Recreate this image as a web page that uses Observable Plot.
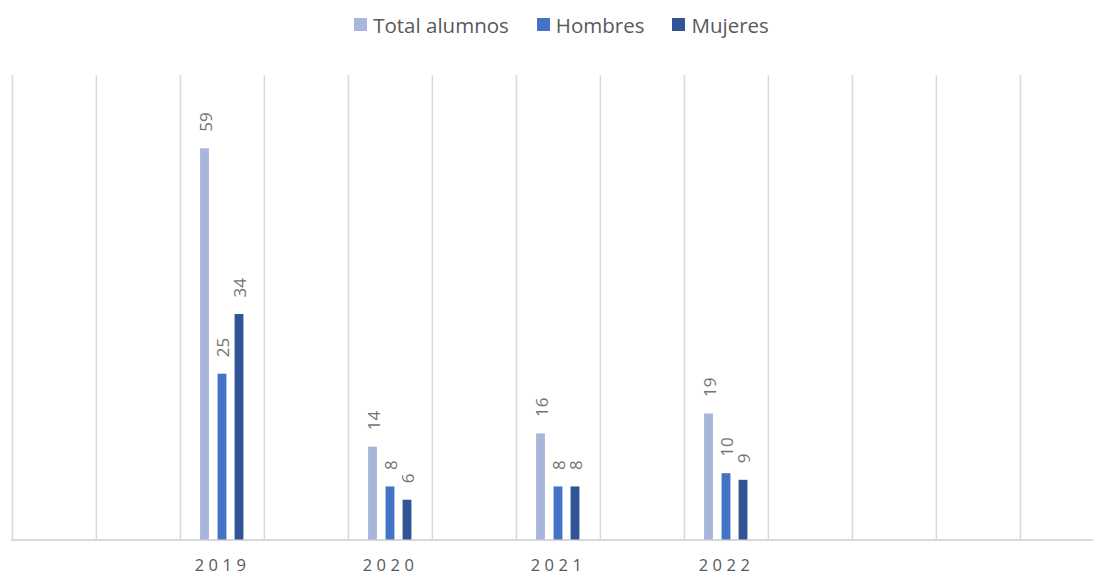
<!DOCTYPE html>
<html>
<head>
<meta charset="utf-8">
<script src="https://cdn.jsdelivr.net/npm/d3@7"></script>
<script src="https://cdn.jsdelivr.net/npm/@observablehq/plot@0.6"></script>
<style>
  body { margin: 0; background: #fff; font-family: "Open Sans", sans-serif; }
  #legend { height: 40px; display: flex; justify-content: center; align-items: center; width: 1063px; padding-left: 30px; color: #595959; font-size: 20.5px; }
  #legend .item { display: flex; align-items: center; margin: 0 14px; position: relative; top: 4.5px; }
  #legend .sw { width: 13px; height: 13px; margin-right: 6px; }
  #chart g[aria-label="x-axis tick label"] text { letter-spacing: 4.5px; }
</style>
</head>
<body>
<div id="legend"></div>
<div id="chart"></div>
<script>
const categories = ["", "", "2019", "", "2020", "", "2021", "", "2022", "", "", "", ""];
const years = ["2019", "2020", "2021", "2022"];
const total = [59, 14, 16, 19];
const hombres = [25, 8, 8, 10];
const mujeres = [34, 6, 8, 9];
const seriesNames = ["Total alumnos", "Hombres", "Mujeres"];
const seriesColors = ["#A9B6DC", "#4472C4", "#2F5597"];

const rows = years.map((y, i) => ({slot: categories.indexOf(y), total: total[i], hombres: hombres[i], mujeres: mujeres[i]}));
const slots = categories.map((c, i) => i);

// legend
const leg = document.getElementById("legend");
seriesNames.forEach((n, i) => {
  const it = document.createElement("div"); it.className = "item";
  const sw = document.createElement("div"); sw.className = "sw"; sw.style.background = seriesColors[i];
  const tx = document.createElement("span"); tx.textContent = n;
  it.appendChild(sw); it.appendChild(tx); leg.appendChild(it);
});

const W = 1093, H = 535;
const x0 = 11, x1 = 1105;
const bw = (x1 - x0) / categories.length;
const barW = 9;
const inset = (bw - barW) / 2;
const offs = [-17.5, 0, 17];
const keys = ["total", "hombres", "mujeres"];
const labelFont = {fontSize: 17, fill: "#737373", fontFamily: "Open Sans"};

const marks = [
  Plot.ruleX(slots, {x: d => d, dx: -bw / 2, stroke: "#d9d9d9", strokeWidth: 1.5}),
  Plot.ruleY([0], {stroke: "#d9d9d9", strokeWidth: 2})
];
keys.forEach((k, i) => {
  marks.push(Plot.barY(rows, {x: "slot", y: k, fill: seriesColors[i], dx: offs[i], insetLeft: inset, insetRight: inset}));
  marks.push(Plot.text(rows, {x: "slot", y: k, text: d => String(d[k]), rotate: -90, textAnchor: "start", dx: offs[i] + 1.5, dy: -17, ...labelFont}));
});
marks.push(Plot.axisX({tickSize: 0, tickPadding: 19.3, fontSize: 16.5, fill: "#595959", fontFamily: "Open Sans", tickFormat: i => categories[i], label: null}));

const chart = Plot.plot({
  width: W, height: H,
  marginLeft: 11, marginRight: 0, marginTop: 35.3, marginBottom: 35.5,
  style: {fontFamily: "Open Sans", overflow: "visible", background: "#fff"},
  x: {type: "band", domain: slots, range: [x0, x1], padding: 0, axis: null},
  y: {domain: [0, 70], axis: null},
  marks
});
document.getElementById("chart").appendChild(chart);
</script>
</body>
</html>
